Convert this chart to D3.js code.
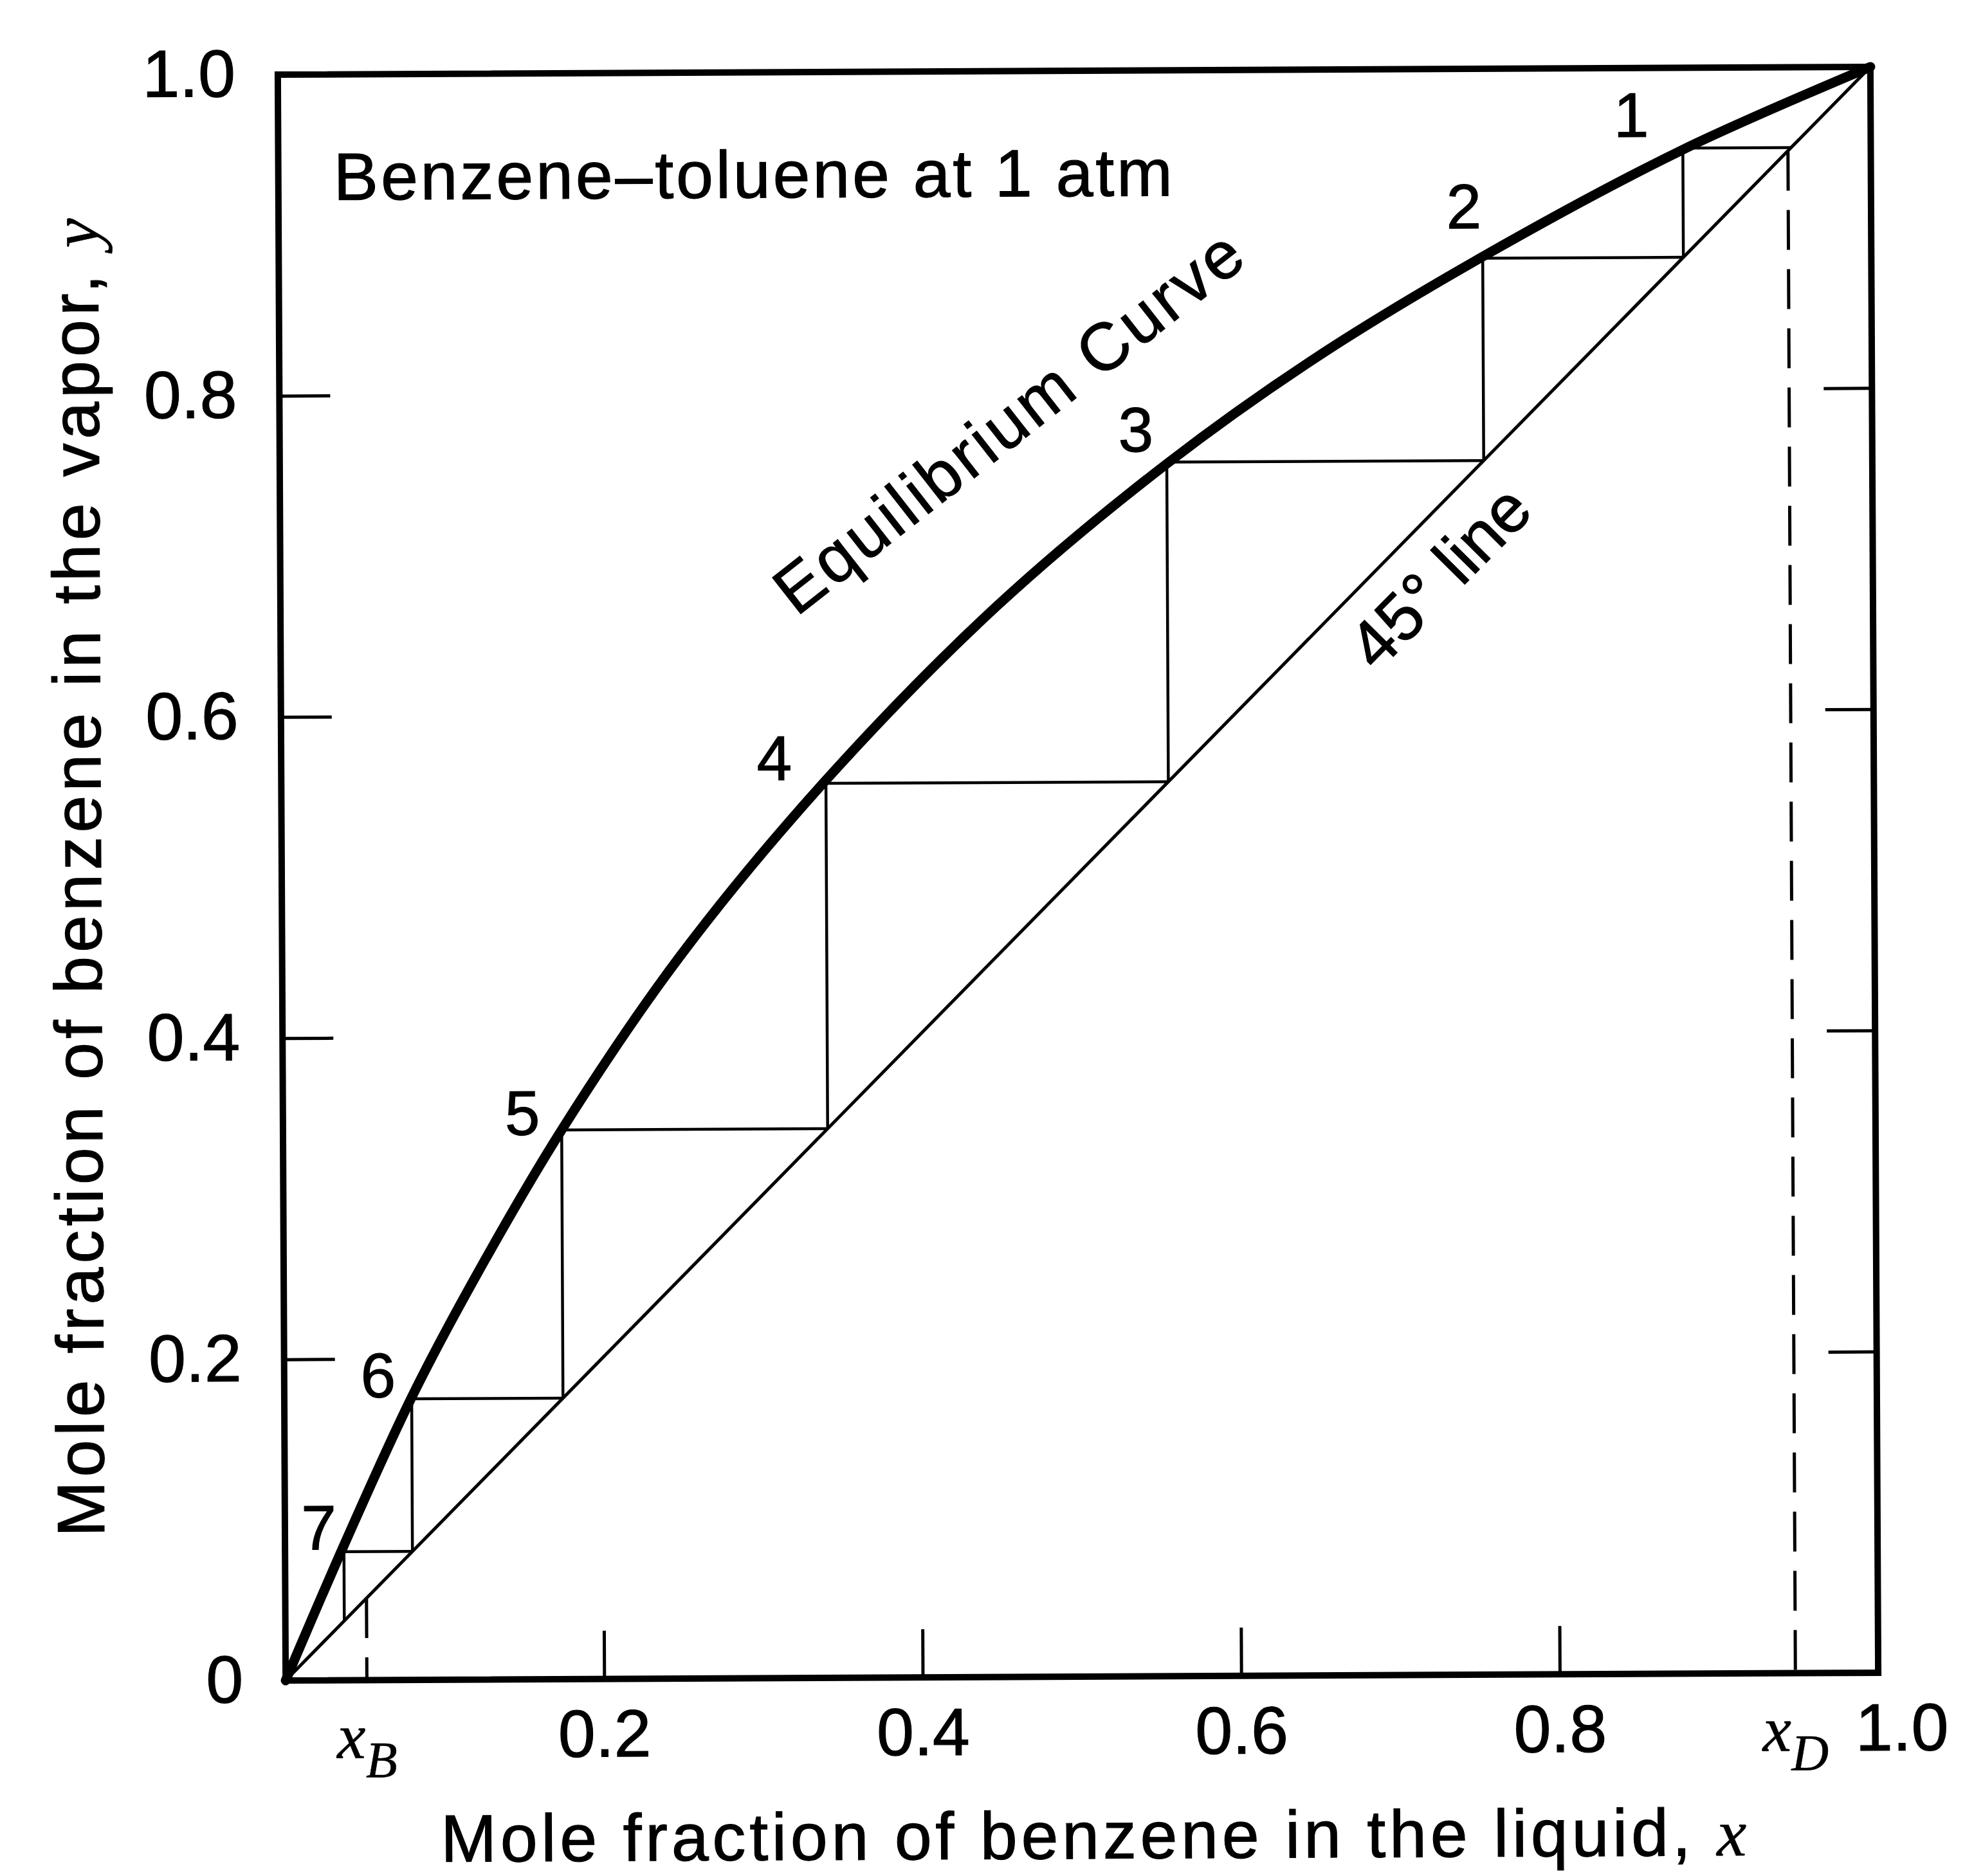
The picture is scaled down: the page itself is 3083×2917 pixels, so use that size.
<!DOCTYPE html>
<html>
<head>
<meta charset="utf-8">
<script src="https://cdn.jsdelivr.net/npm/d3@7/dist/d3.min.js"></script>
<style>
  body { margin: 0; background: #fff; }
  text { font-family: "Liberation Sans", Arial, sans-serif; fill: #000; stroke: #000; stroke-width: 1.2px; }
</style>
</head>
<body>
<div id="chart-area"></div>
<script>
// equilibrium curve (x = liquid, y = vapor)
var eqX = [0, 0.037, 0.08, 0.12, 0.175, 0.25, 0.342, 0.45, 0.557, 0.65, 0.756, 0.882, 1.0];
var eqY = [0, 0.084, 0.176, 0.25, 0.342, 0.45, 0.559, 0.667, 0.755, 0.82, 0.883, 0.949, 1.0];

// stage corners on the curve
var stageNames = ["1", "2", "3", "4", "5", "6", "7"];
var stageX = [0.882, 0.756, 0.557, 0.342, 0.175, 0.080, 0.037];
var stageY = [0.950, 0.882, 0.756, 0.557, 0.342, 0.175, 0.080];

var xD = 0.948;
var xB = 0.051;

var xTicks = [0.2, 0.4, 0.6, 0.8, 1.0];
var xTickLabels = ["0.2", "0.4", "0.6", "0.8", "1.0"];
var yTicks = [0, 0.2, 0.4, 0.6, 0.8, 1.0];
var yTickLabels = ["0", "0.2", "0.4", "0.6", "0.8", "1.0"];

// where each stage number sits relative to its corner (px)
var labelNudge = [[-80, -52], [-29, -81], [-48, -51], [-80, -40], [-61, -27], [-52, -37], [-39, -38]];

var margin = { left: 438, top: 110 };
var width = 2476;
var height = 2497;
var fontSize = 104;

var svg = d3.select("#chart-area")
  .append("svg")
  .attr("width", 3083)
  .attr("height", 2917);

// the scan is tilted a little
var root = svg.append("g")
  .attr("transform", "rotate(-0.28, 1676, 1358)");

var g = root.append("g")
  .attr("transform", "translate(" + margin.left + ", " + margin.top + ")");

var x = d3.scaleLinear().domain([0, 1]).range([0, width]);
var y = d3.scaleLinear().domain([0, 1]).range([height, 0]);

// axes: inner ticks only
var xAxisGroup = g.append("g")
  .attr("class", "x-axis")
  .attr("transform", "translate(0, " + height + ")")
  .call(d3.axisBottom(x)
    .tickValues(xTicks)
    .tickSize(-75)
    .tickPadding(47)
    .tickFormat(function(d, i){ return xTickLabels[i]; }));

var yAxisGroup = g.append("g")
  .attr("class", "y-axis")
  .call(d3.axisLeft(y)
    .tickValues(yTicks)
    .tickSize(-79)
    .tickPadding(66)
    .tickFormat(function(d, i){ return yTickLabels[i]; }));

var yRightGroup = g.append("g")
  .attr("transform", "translate(" + width + ", 0)")
  .call(d3.axisRight(y)
    .tickValues([0.2, 0.4, 0.6, 0.8])
    .tickSize(-75)
    .tickFormat(""));

g.selectAll(".domain").remove();
g.selectAll(".tick line").attr("stroke", "#000").attr("stroke-width", 5);
g.selectAll(".tick text")
  .attr("font-family", "Liberation Sans, Arial, sans-serif")
  .attr("font-size", fontSize)
  .attr("fill", "#000");
xAxisGroup.selectAll(".tick text")
  .filter(function(d){ return d === 1; })
  .attr("dx", 36);

// diagonal
g.append("line")
  .attr("x1", x(0)).attr("y1", y(0))
  .attr("x2", x(1)).attr("y2", y(1))
  .attr("stroke", "#000")
  .attr("stroke-width", 5);

// staircase
var stepLine = d3.line()
  .x(function(d){ return x(d[0]); })
  .y(function(d){ return y(d[1]); });

stageX.forEach(function(sx, i){
  var sy = stageY[i];
  g.append("path")
    .attr("d", stepLine([[sy, sy], [sx, sy], [sx, sx]]))
    .attr("fill", "none")
    .attr("stroke", "#000")
    .attr("stroke-width", 4.5);
});

// xD and xB dashed verticals
[xD, xB].forEach(function(v){
  g.append("path")
    .attr("d", stepLine([[v, v], [v, 0]]))
    .attr("fill", "none")
    .attr("stroke", "#000")
    .attr("stroke-width", 5)
    .attr("stroke-dasharray", "62,30");
});

// equilibrium curve
var eqLine = d3.line()
  .x(function(d){ return x(d[0]); })
  .y(function(d){ return y(d[1]); })
  .curve(d3.curveCatmullRom.alpha(0.5));

g.append("path")
  .attr("d", eqLine(eqX.map(function(v, i){ return [v, eqY[i]]; })))
  .attr("fill", "none")
  .attr("stroke", "#000")
  .attr("stroke-width", 15)
  .attr("stroke-linecap", "round");

// plot frame
g.append("rect")
  .attr("x", 0).attr("y", 0)
  .attr("width", width).attr("height", height)
  .attr("fill", "none")
  .attr("stroke", "#000")
  .attr("stroke-width", 10);

// stage numbers
g.selectAll(".stage-label")
  .data(stageNames)
  .enter()
  .append("text")
  .attr("class", "stage-label")
  .attr("x", function(d, i){ return x(stageX[i]) + labelNudge[i][0]; })
  .attr("y", function(d, i){ return y(stageY[i]) + labelNudge[i][1]; })
  .attr("dy", "0.35em")
  .attr("text-anchor", "middle")
  .attr("font-size", 98)
  .text(function(d){ return d; });

// xB / xD labels
function subLabel(v, sub){
  var t = g.append("text")
    .attr("x", x(v))
    .attr("y", height + 121)
    .attr("text-anchor", "middle")
    .style("stroke-width", "0.6px");
  t.append("tspan")
    .style("font-family", "Liberation Serif, Times New Roman, serif")
    .attr("font-style", "italic")
    .attr("font-size", 100)
    .text("x");
  t.append("tspan")
    .style("font-family", "Liberation Serif, Times New Roman, serif")
    .attr("font-style", "italic")
    .attr("font-size", 80)
    .attr("dy", 30)
    .text(sub);
}
subLabel(xB, "B");
subLabel(xD, "D");

// title inside the plot
g.append("text")
  .attr("x", 86)
  .attr("y", 195)
  .attr("font-size", fontSize)
  .attr("textLength", 1304)
  .attr("lengthAdjust", "spacing")
  .text("Benzene\u2013toluene at 1 atm");

// curve labels
g.append("text")
  .attr("transform", "translate(1155, 574) rotate(-37.8)")
  .attr("text-anchor", "middle")
  .attr("font-size", fontSize)
  .attr("textLength", 893)
  .attr("lengthAdjust", "spacing")
  .text("Equilibrium Curve");

g.append("text")
  .attr("transform", "translate(1828, 815) rotate(-45)")
  .attr("text-anchor", "middle")
  .attr("font-size", fontSize)
  .attr("textLength", 350)
  .attr("lengthAdjust", "spacing")
  .text("45\u00b0 line");

// axis titles
var xTitle = g.append("text")
  .attr("x", 240)
  .attr("y", 2780)
  .attr("font-size", fontSize)
  .attr("textLength", 2030)
  .attr("lengthAdjust", "spacing");
xTitle.append("tspan").text("Mole fraction of benzene in the liquid, ");
xTitle.append("tspan")
  .style("font-family", "Liberation Serif, Times New Roman, serif")
  .attr("font-style", "italic")
  .style("stroke-width", "0.6px")
  .text("x");

var yTitle = g.append("text")
  .attr("transform", "translate(-281, 2272) rotate(-90)")
  .attr("font-size", fontSize)
  .attr("textLength", 2050)
  .attr("lengthAdjust", "spacing");
yTitle.append("tspan").text("Mole fraction of benzene in the vapor, ");
yTitle.append("tspan")
  .style("font-family", "Liberation Serif, Times New Roman, serif")
  .attr("font-style", "italic")
  .style("stroke-width", "0.6px")
  .text("y");
</script>
</body>
</html>
